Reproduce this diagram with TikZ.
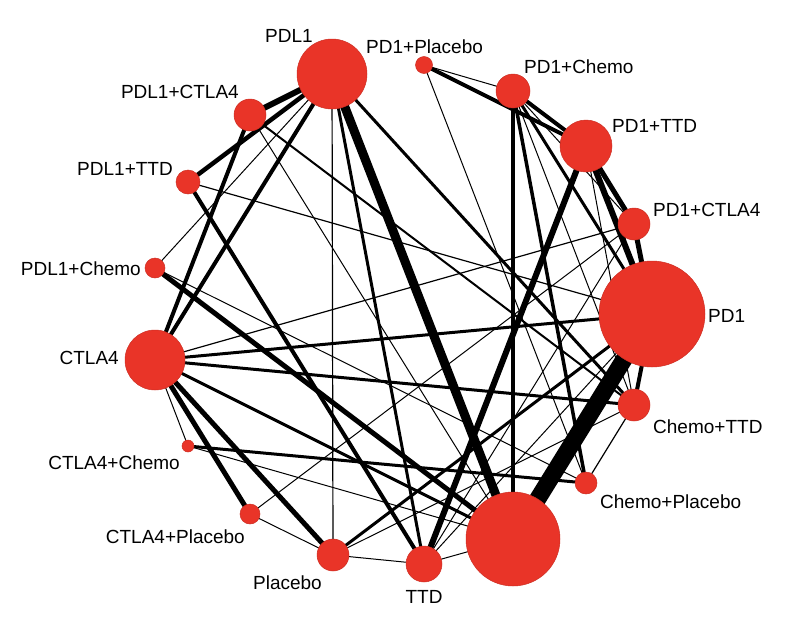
\documentclass[tikz,border=0pt]{standalone}
\usepackage{fontspec}
\setmainfont{Liberation Sans}
\usetikzlibrary{backgrounds}
\definecolor{nred}{RGB}{233,52,40}
\begin{document}
\begin{tikzpicture}[x=1pt,y=-1pt,
  tnode/.style={circle,fill=nred,draw=nred!88!black,line width=0.5pt,inner sep=0pt},
  lbl/.style={font=\fontsize{19}{22}\selectfont,inner sep=0pt,text=black},
  edge/.style={draw=black,line cap=butt}]
\useasboundingbox (0,0) rectangle (790,632);
% treatment nodes
\node[tnode,minimum size=70pt]  (A) at (332,74)  {};
\node[tnode,minimum size=17pt]  (B) at (424,65)  {};
\node[tnode,minimum size=34pt]  (C) at (513,91)  {};
\node[tnode,minimum size=52pt]  (D) at (586,146) {};
\node[tnode,minimum size=32pt]  (E) at (634,224) {};
\node[tnode,minimum size=106pt] (F) at (652,314) {};
\node[tnode,minimum size=32pt]  (G) at (634,405) {};
\node[tnode,minimum size=22pt]  (H) at (586,483) {};
\node[tnode,minimum size=94pt]  (I) at (513,539) {};
\node[tnode,minimum size=36pt]  (J) at (424,564) {};
\node[tnode,minimum size=32pt]  (K) at (333,555) {};
\node[tnode,minimum size=20pt]  (L) at (250,514) {};
\node[tnode,minimum size=12pt]  (M) at (188,446) {};
\node[tnode,minimum size=60pt]  (N) at (155,360) {};
\node[tnode,minimum size=20pt]  (O) at (155,268) {};
\node[tnode,minimum size=24pt]  (P) at (188,182) {};
\node[tnode,minimum size=32pt]  (Q) at (250,115) {};
% labels
\node[lbl] (lA) at (289,36) {PDL1};
\node[lbl,anchor=west] (lB) at (366,47) {PD1+Placebo};
\node[lbl,anchor=west] (lC) at (524,67) {PD1+Chemo};
\node[lbl,anchor=west] (lD) at (612,126) {PD1+TTD};
\node[lbl,anchor=west] (lE) at (653,210) {PD1+CTLA4};
\node[lbl,anchor=west] (lF) at (708,316) {PD1};
\node[lbl,anchor=west] (lG) at (653,427) {Chemo+TTD};
\node[lbl,anchor=west] (lH) at (600,502) {Chemo+Placebo};
\node[lbl] (lJ) at (424,597) {TTD};
\node[lbl,anchor=east] (lK) at (322,583) {Placebo};
\node[lbl,anchor=east] (lL) at (245,537) {CTLA4+Placebo};
\node[lbl,anchor=east] (lM) at (180,463) {CTLA4+Chemo};
\node[lbl,anchor=east] (lN) at (119,358) {CTLA4};
\node[lbl,anchor=east] (lO) at (141,269) {PDL1+Chemo};
\node[lbl,anchor=east] (lP) at (173,169) {PDL1+TTD};
\node[lbl,anchor=east] (lQ) at (239,92) {PDL1+CTLA4};
% connectors
\begin{scope}[on background layer]
\draw[edge,line width=6pt]   (A.center) -- (Q.center);
\draw[edge,line width=4.5pt] (A.center) -- (P.center);
\draw[edge,line width=4pt]   (A.center) -- (N.center);
\draw[edge,line width=1pt]   (A.center) -- (O.center);
\draw[edge,line width=1.2pt] (A.center) -- (K.center);
\draw[edge,line width=9pt]   (A.center) -- (I.center);
\draw[edge,line width=3pt]   (A.center) -- (J.center);
\draw[edge,line width=3pt]   (A.center) -- (G.center);
\draw[edge,line width=4pt]   (Q.center) -- (N.center);
\draw[edge,line width=1pt]   (Q.center) -- (I.center);
\draw[edge,line width=2pt]   (Q.center) -- (G.center);
\draw[edge,line width=4pt]   (P.center) -- (J.center);
\draw[edge,line width=1.2pt] (P.center) -- (F.center);
\draw[edge,line width=5pt]   (O.center) -- (I.center);
\draw[edge,line width=1pt]   (O.center) -- (H.center);
\draw[edge,line width=1.2pt] (N.center) -- (E.center);
\draw[edge,line width=3pt]   (N.center) -- (F.center);
\draw[edge,line width=3pt]   (N.center) -- (G.center);
\draw[edge,line width=3pt]   (N.center) -- (I.center);
\draw[edge,line width=5pt]   (N.center) -- (K.center);
\draw[edge,line width=5pt]   (N.center) -- (L.center);
\draw[edge,line width=1pt]   (N.center) -- (M.center);
\draw[edge,line width=3pt]   (M.center) -- (H.center);
\draw[edge,line width=1pt]   (M.center) -- (I.center);
\draw[edge,line width=1pt]   (L.center) -- (K.center);
\draw[edge,line width=1pt]   (L.center) -- (E.center);
\draw[edge,line width=1pt]   (K.center) -- (J.center);
\draw[edge,line width=3pt]   (K.center) -- (F.center);
\draw[edge,line width=1pt]   (K.center) -- (G.center);
\draw[edge,line width=6pt]   (J.center) -- (D.center);
\draw[edge,line width=1pt]   (J.center) -- (I.center);
\draw[edge,line width=1pt]   (J.center) -- (F.center);
\draw[edge,line width=1pt]   (J.center) -- (E.center);
\draw[edge,line width=1pt]   (B.center) -- (C.center);
\draw[edge,line width=4pt]   (B.center) -- (D.center);
\draw[edge,line width=1pt]   (B.center) -- (H.center);
\draw[edge,line width=4pt]   (C.center) -- (D.center);
\draw[edge,line width=4pt]   (C.center) -- (I.center);
\draw[edge,line width=3.5pt] (C.center) -- (H.center);
\draw[edge,line width=1pt]   (C.center) -- (E.center);
\draw[edge,line width=3pt]   (C.center) -- (F.center);
\draw[edge,line width=1pt]   (C.center) -- (G.center);
\draw[edge,line width=5pt]   (D.center) -- (E.center);
\draw[edge,line width=6pt]   (D.center) -- (F.center);
\draw[edge,line width=1pt]   (D.center) -- (G.center);
\draw[edge,line width=5pt]   (E.center) -- (F.center);
\draw[edge,line width=4pt]   (F.center) -- (G.center);
\draw[edge,line width=17pt]  (F.center) -- (I.center);
\draw[edge,line width=1.2pt] (G.center) -- (H.center);
\end{scope}
\end{tikzpicture}
\end{document}
